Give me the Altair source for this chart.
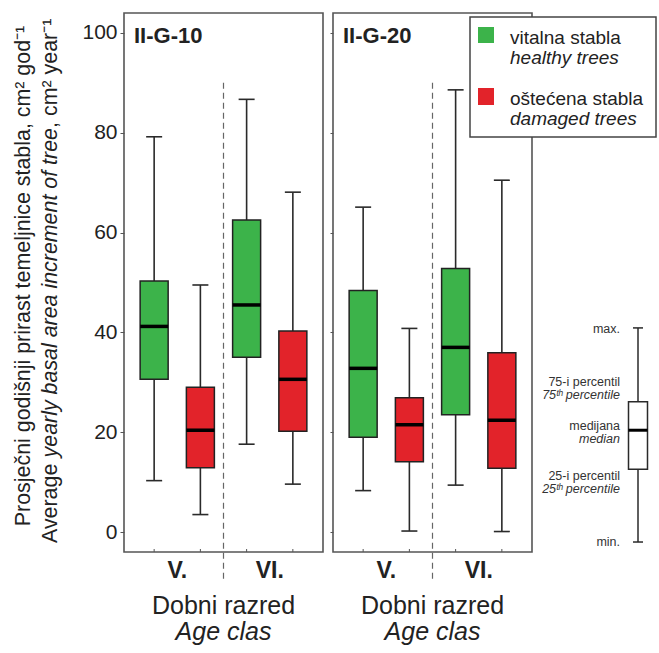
import altair as alt
import pandas as pd

# ---------------- data ----------------
panels = ["II-G-10", "II-G-20"]
age_classes = ["V.", "VI."]
status = ["vitalna stabla", "oštećena stabla"]
box_class = ["V.", "V.", "VI.", "VI."]
box_status = ["vitalna stabla", "oštećena stabla", "vitalna stabla", "oštećena stabla"]

g10_min = [10.3, 3.5, 17.6, 9.6]
g10_q1 = [30.6, 12.9, 35.0, 20.2]
g10_med = [41.2, 20.4, 45.5, 30.6]
g10_q3 = [50.3, 29.0, 62.5, 40.3]
g10_max = [79.2, 49.5, 86.7, 68.1]

g20_min = [8.3, 0.2, 9.4, 0.1]
g20_q1 = [19.0, 14.1, 23.5, 12.8]
g20_med = [32.8, 21.5, 37.0, 22.4]
g20_q3 = [48.4, 26.9, 52.8, 35.9]
g20_max = [65.1, 40.8, 88.6, 70.5]

divider_top = 90  # where the dashed separator begins (data units)

demo_min, demo_q1, demo_med, demo_q3, demo_max = -2.0, 12.6, 20.4, 26.1, 40.9

y_ticks = [0, 20, 40, 60, 80, 100]
y_domain = [-4, 104]

legend_top = ["vitalna stabla", "oštećena stabla"]
legend_bottom = ["healthy trees", "damaged trees"]
x_title_1 = "Dobni razred"
x_title_2 = "Age clas"
y_title_1 = "Prosječni godišnji prirast temeljnice stabla, cm² god⁻¹"
y_title_2a = "Average "
y_title_2b = "yearly basal area increment of tree"
y_title_2c = ", cm² year⁻¹"

GREEN = "#3cb34a"
RED = "#e2232a"
INK = "#222222"
FRAME = "#555555"
FONT = "Liberation Sans"

W, H = 199, 539


def one():
    return alt.Chart(pd.DataFrame({"k": [0]}))


def text_mark(txt, x, y, size, color=INK, **kw):
    return one().mark_text(text=txt, font=FONT, fontSize=size, color=color, **kw).encode(
        x=alt.value(x), y=alt.value(y)
    )


def make_panel(name, mins, q1s, meds, q3s, maxs, first, with_legend):
    df = pd.DataFrame({
        "cls": box_class, "status": box_status,
        "min": mins, "q1": q1s, "median": meds, "q3": q3s, "max": maxs,
    })
    base = alt.Chart(df)
    xs = alt.Scale(domain=age_classes, paddingInner=0, paddingOuter=0.076)
    xaxis = alt.Axis(title=None, labelFontSize=23, labelFontWeight="bold",
                     labelFont=FONT, labelColor=INK, ticks=False, domain=False,
                     labelPadding=7, labelAngle=0, grid=False)
    xenc = alt.X("cls:N", scale=xs, sort=age_classes, axis=xaxis)
    xo = alt.XOffset("status:N", scale=alt.Scale(domain=status, paddingInner=0, paddingOuter=0))
    ys = alt.Scale(domain=y_domain, nice=False, zero=False)
    if first:
        yaxis = alt.Axis(title=None, values=y_ticks, labelFontSize=21, labelFont=FONT,
                         labelColor=INK, tickSize=4, tickColor=FRAME, labelPadding=3,
                         domain=False, grid=False)
    else:
        yaxis = alt.Axis(title=None, values=y_ticks, labels=False, tickSize=3,
                         tickColor=FRAME, domain=False, grid=False)
    color = alt.Color("status:N", scale=alt.Scale(domain=status, range=[GREEN, RED]), legend=None)

    def Y(field):
        return alt.Y(field, scale=ys, axis=yaxis)

    divider = one().mark_rule(color="#666", strokeWidth=1.2, strokeDash=[6, 4]).encode(
        x=alt.XDatum("VI.", bandPosition=0, scale=xs, axis=xaxis),
        y=alt.YDatum(divider_top, scale=ys, axis=yaxis),
        y2=alt.value(H + 30),
    )
    whisk = base.mark_rule(color="#2a2a2a", strokeWidth=1.6).encode(
        x=xenc, xOffset=xo, y=Y("min:Q"), y2="max:Q")
    box = base.mark_bar(size=28, stroke="#222", strokeWidth=1.5, opacity=1).encode(
        x=xenc, xOffset=xo, y=Y("q1:Q"), y2="q3:Q", color=color)
    med = base.mark_tick(size=28, thickness=3.5, color="#000", opacity=1).encode(
        x=xenc, xOffset=xo, y=Y("median:Q"))
    cap_lo = base.mark_tick(size=16, thickness=1.6, color="#2a2a2a", opacity=1).encode(
        x=xenc, xOffset=xo, y=Y("min:Q"))
    cap_hi = base.mark_tick(size=16, thickness=1.6, color="#2a2a2a", opacity=1).encode(
        x=xenc, xOffset=xo, y=Y("max:Q"))
    bticks = base.mark_rule(color=FRAME, strokeWidth=1).encode(
        x=xenc, xOffset=xo, y=alt.value(H - 3), y2=alt.value(H))
    frame = one().mark_rect(fillOpacity=0, stroke=FRAME, strokeWidth=1.6).encode(
        x=alt.value(0), x2=alt.value(W), y=alt.value(0), y2=alt.value(H))
    title = text_mark(name, 10, 30, 22, fontWeight="bold", align="left", baseline="alphabetic")
    xt1 = text_mark(x_title_1, W / 2, 601, 25, align="center", baseline="alphabetic")
    xt2 = text_mark(x_title_2, W / 2, 627, 25, align="center", baseline="alphabetic",
                    fontStyle="italic")

    layers = [divider, whisk, box, med, cap_lo, cap_hi, bticks, frame, title, xt1, xt2]

    if first:
        fs = 21.4
        w_a = 85.6
        w_b = 329.5
        layers += [
            text_mark(y_title_1, -100, 263, fs, angle=270, align="center", baseline="middle"),
            text_mark(y_title_2a, -73, 530, fs, angle=270, align="left", baseline="middle"),
            text_mark(y_title_2b, -73, 530 - w_a, fs, angle=270, align="left", baseline="middle",
                      fontStyle="italic"),
            text_mark(y_title_2c, -73, 530 - w_a - w_b, fs, angle=270, align="left",
                      baseline="middle"),
        ]
    if with_legend:
        lbox = one().mark_rect(fill="white", stroke="#444", strokeWidth=1.5).encode(
            x=alt.value(137), x2=alt.value(323), y=alt.value(4), y2=alt.value(124))
        sq_g = one().mark_rect(fill=GREEN).encode(
            x=alt.value(145), x2=alt.value(161), y=alt.value(14), y2=alt.value(30))
        sq_r = one().mark_rect(fill=RED).encode(
            x=alt.value(145), x2=alt.value(161), y=alt.value(75), y2=alt.value(92))
        layers += [
            lbox, sq_g, sq_r,
            text_mark(legend_top[0], 177, 31, 19, align="left", baseline="alphabetic"),
            text_mark(legend_bottom[0], 177, 51, 19, align="left", baseline="alphabetic",
                      fontStyle="italic"),
            text_mark(legend_top[1], 177, 92, 19, align="left", baseline="alphabetic"),
            text_mark(legend_bottom[1], 177, 112, 19, align="left", baseline="alphabetic",
                      fontStyle="italic"),
        ]
    return alt.layer(*layers).properties(width=W, height=H)


p1 = make_panel(panels[0], g10_min, g10_q1, g10_med, g10_q3, g10_max, True, False)
p2 = make_panel(panels[1], g20_min, g20_q1, g20_med, g20_q3, g20_max, False, True)

# ---------------- explanatory box ----------------
demo = alt.Chart(pd.DataFrame({"min": [demo_min], "q1": [demo_q1], "median": [demo_med],
                               "q3": [demo_q3], "max": [demo_max]}))
ys_e = alt.Scale(domain=y_domain, nice=False, zero=False)
CX = 96
e_rule = demo.mark_rule(color="#2a2a2a", strokeWidth=1.5).encode(
    x=alt.value(CX), y=alt.Y("min:Q", scale=ys_e, axis=None), y2="max:Q")
e_box = demo.mark_rect(fill="white", stroke="#2a2a2a", strokeWidth=1.5).encode(
    x=alt.value(CX - 9.5), x2=alt.value(CX + 9.5), y=alt.Y("q1:Q", scale=ys_e, axis=None), y2="q3:Q")
e_med = demo.mark_rule(color="#000", strokeWidth=3).encode(
    x=alt.value(CX - 9.5), x2=alt.value(CX + 9.5), y=alt.Y("median:Q", scale=ys_e, axis=None))
e_lo = demo.mark_rule(color="#2a2a2a", strokeWidth=1.5).encode(
    x=alt.value(CX - 5), x2=alt.value(CX + 5), y=alt.Y("min:Q", scale=ys_e, axis=None))
e_hi = demo.mark_rule(color="#2a2a2a", strokeWidth=1.5).encode(
    x=alt.value(CX - 5), x2=alt.value(CX + 5), y=alt.Y("max:Q", scale=ys_e, axis=None))

exp_labels = [
    ("max.", 320, "normal"),
    ("75-i percentil", 373, "normal"),
    ("75ᵗʰ percentile", 386, "italic"),
    ("medijana", 417, "normal"),
    ("median", 430, "italic"),
    ("25-i percentil", 467, "normal"),
    ("25ᵗʰ percentile", 480, "italic"),
    ("min.", 533, "normal"),
]
e_texts = [
    text_mark(t, 78, y, 12.5, color="#333", align="right", baseline="alphabetic", fontStyle=st)
    for t, y, st in exp_labels
]
explainer = alt.layer(e_rule, e_box, e_med, e_lo, e_hi, *e_texts).properties(width=110, height=H)

chart = alt.hconcat(p1, p2, explainer, spacing=10, bounds="flush").properties(
    padding={"left": 12, "top": 12, "right": 0, "bottom": 0}
).configure(background="white").configure_view(stroke="transparent", strokeWidth=0)

chart.save("out.html", embed_options={"renderer": "svg", "actions": False})
